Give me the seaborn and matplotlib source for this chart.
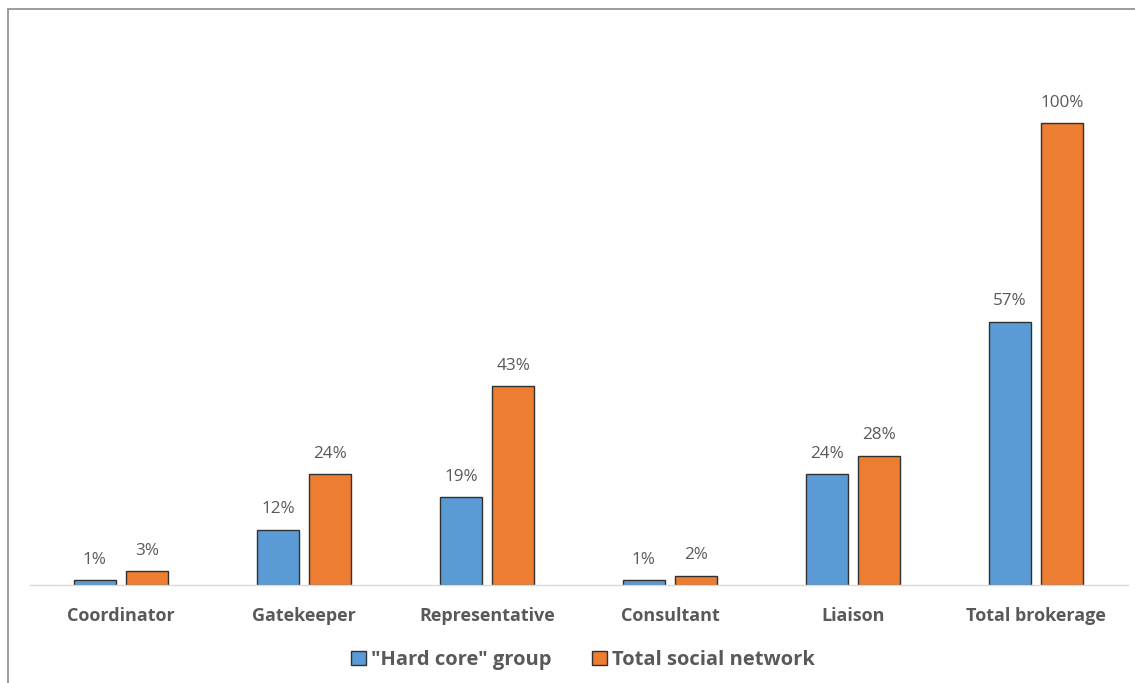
import matplotlib
matplotlib.use("Agg")
import matplotlib.pyplot as plt
import seaborn as sns
import pandas as pd
from matplotlib.patches import Rectangle, Patch

categories = ["Coordinator", "Gatekeeper", "Representative", "Consultant", "Liaison", "Total brokerage"]
series_names = ['"Hard core" group', "Total social network"]
hard_core = [1, 12, 19, 1, 24, 57]
total_network = [3, 24, 43, 2, 28, 100]
colors = ["#5B9BD5", "#ED7D31"]

rows = []
for c, v in zip(categories, hard_core):
    rows.append({"cat": c, "series": series_names[0], "val": v})
for c, v in zip(categories, total_network):
    rows.append({"cat": c, "series": series_names[1], "val": v})
df = pd.DataFrame(rows)

sns.set_theme(style="white")
plt.rcParams["font.family"] = ["Open Sans", "DejaVu Sans"]
txt = "#595959"

fig = plt.figure(figsize=(11.35, 6.83), dpi=100)
ax = fig.add_axes([29.5 / 1135, 1 - 585 / 683, (1127.5 - 29.5) / 1135, (585 - 31) / 683])

sns.barplot(data=df, x="cat", y="val", hue="series", order=categories,
            hue_order=series_names, palette=colors, width=0.57, gap=0.19,
            saturation=1, edgecolor="#303030", linewidth=1.0, ax=ax, legend=False)

ax.set_ylim(0, 120)
ax.set_xlim(-0.5, 5.5)
for s in ["top", "right", "left"]:
    ax.spines[s].set_visible(False)
ax.spines["bottom"].set_color("#D9D9D9")
ax.spines["bottom"].set_linewidth(1.0)
ax.set_yticks([])
ax.set_xlabel("")
ax.set_ylabel("")
ax.tick_params(axis="x", length=0, pad=16)
for lbl in ax.get_xticklabels():
    lbl.set_fontsize(13)
    lbl.set_fontweight("bold")
    lbl.set_color(txt)

for cont in ax.containers:
    ax.bar_label(cont, labels=[f"{int(v)}%" for v in cont.datavalues],
                 padding=9, fontsize=12.3, color=txt)

handles = [Patch(facecolor=colors[i], edgecolor="#303030", linewidth=1.0, label=series_names[i])
           for i in range(2)]
leg = fig.legend(handles=handles, loc="center", bbox_to_anchor=(583 / 1135, 1 - 660 / 683),
                 ncol=2, frameon=False, fontsize=14.5, handlelength=0.75, handleheight=0.75,
                 handletextpad=0.25, columnspacing=2.0)
for t in leg.get_texts():
    t.set_fontweight("bold")
    t.set_color(txt)

fig.patches.append(Rectangle((8 / 1135, -0.05), 1.1, 1 - 9 / 683 + 0.05,
                             transform=fig.transFigure, fill=False,
                             edgecolor="#8C8C8C", linewidth=1.2, zorder=0))

fig.savefig("out.png", dpi=100)
